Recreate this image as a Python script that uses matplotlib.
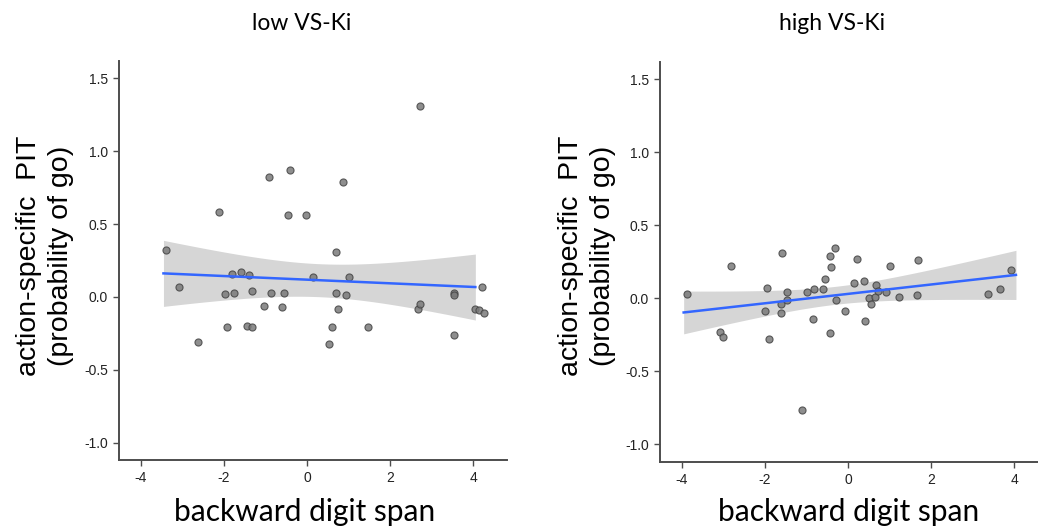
import numpy as np
import matplotlib
matplotlib.use('Agg')
from matplotlib import pyplot as plt

# low VS-Ki group
low_x = [-3.39, -3.08, -2.61, -2.12, -1.97, -1.92, -1.80, -1.76, -1.59, -1.45,
         -1.39, -1.33, -1.33, -1.04, -0.92, -0.87, -0.61, -0.55, -0.46, -0.40,
         -0.02, 0.14, 0.52, 0.61, 0.70, 0.70, 0.75, 0.87, 0.95, 1.01,
         1.48, 2.67, 2.72, 2.72, 3.54, 3.54, 3.54, 4.03, 4.14, 4.21, 4.25]
low_y = [0.32, 0.07, -0.31, 0.58, 0.02, -0.21, 0.16, 0.03, 0.17, -0.20,
         0.15, 0.04, -0.21, -0.06, 0.82, 0.03, -0.07, 0.03, 0.56, 0.87,
         0.56, 0.14, -0.32, -0.21, 0.31, 0.03, -0.08, 0.79, 0.01, 0.14,
         -0.21, -0.08, -0.05, 1.31, 0.03, 0.01, -0.26, -0.08, -0.09, 0.07, -0.11]

# high VS-Ki group
high_x = [-3.88, -3.08, -3.01, -2.80, -2.00, -1.94, -1.91, -1.62, -1.62, -1.59,
          -1.47, -1.47, -1.11, -0.98, -0.84, -0.81, -0.61, -0.55, -0.44, -0.44,
          -0.41, -0.31, -0.29, -0.06, 0.14, 0.21, 0.38, 0.41, 0.50, 0.55,
          0.64, 0.67, 0.73, 0.91, 1.02, 1.22, 1.65, 1.68, 3.36, 3.65, 3.91]
high_y = [0.03, -0.23, -0.27, 0.22, -0.09, 0.07, -0.28, -0.04, -0.10, 0.31,
          0.04, -0.01, -0.77, 0.04, -0.14, 0.06, 0.06, 0.13, 0.29, -0.24,
          0.21, 0.34, -0.01, -0.09, 0.10, 0.27, 0.12, -0.16, 0.00, -0.04,
          0.01, 0.09, 0.05, 0.04, 0.22, 0.01, 0.02, 0.26, 0.03, 0.06, 0.19]

# x range covered by the smoother in each panel
low_fit_range = [-3.45, 4.05]
high_fit_range = [-3.95, 4.04]

titles = ['low VS-Ki', 'high VS-Ki']
x_label = 'backward digit span'
y_label = 'action-specific  PIT\n(probability of go)'
x_ticks = [-4, -2, 0, 2, 4]
y_ticks = [-1.0, -0.5, 0.0, 0.5, 1.0, 1.5]

T_CRIT = 2.02  # 95% t quantile, df = 39

plt.rcParams['font.family'] = ['Liberation Sans', 'DejaVu Sans']
label_font = ['Lato', 'DejaVu Sans']

fig = plt.figure(figsize=(10.38, 5.29), dpi=100)
ax_low = fig.add_axes([0.1146, 0.1304, 0.3738, 0.7543])
ax_high = fig.add_axes([0.6358, 0.1275, 0.3738, 0.7560])


def draw_panel(ax, xs, ys, fit_range):
    xs = np.array(xs)
    ys = np.array(ys)
    n = len(xs)
    slope, icept = np.polyfit(xs, ys, 1)
    resid = ys - (icept + slope * xs)
    s = np.sqrt(np.sum(resid ** 2) / (n - 2))
    sxx = np.sum((xs - xs.mean()) ** 2)
    gx = np.linspace(fit_range[0], fit_range[1], 80)
    gy = icept + slope * gx
    se = s * np.sqrt(1.0 / n + (gx - xs.mean()) ** 2 / sxx)

    ax.fill_between(gx, gy - T_CRIT * se, gy + T_CRIT * se,
                    color='#d6d6d6', lw=0, zorder=1)
    ax.scatter(xs, ys, s=26, facecolor='#7a7a7a', edgecolor='#444444',
               linewidths=0.8, alpha=0.85, zorder=2)
    ax.plot(gx, gy, color='#3366ff', lw=1.8, zorder=3)

    ax.set_xlim(-4.52, 4.81)
    ax.set_ylim(-1.12, 1.62)
    ax.set_xticks(x_ticks)
    ax.set_yticks(y_ticks)
    ax.set_xticklabels([str(t) for t in x_ticks])
    ax.set_yticklabels(['%.1f' % t for t in y_ticks])
    for side in ['top', 'right']:
        ax.spines[side].set_visible(False)
    for side in ['left', 'bottom']:
        ax.spines[side].set_color('#4d4d4d')
        ax.spines[side].set_linewidth(1.4)
    ax.tick_params(length=4, width=1, color='#4d4d4d', labelsize=10,
                   labelcolor='#222222', pad=4)


draw_panel(ax_low, low_x, low_y, low_fit_range)
draw_panel(ax_high, high_x, high_y, high_fit_range)

# titles, axis labels placed on the figure
for xc, title in zip([0.291, 0.8015], titles):
    fig.text(xc, 0.955, title, fontsize=16.5, family=label_font,
             ha='center', va='center')
for xc in [0.293, 0.818]:
    fig.text(xc, 0.0151, x_label, fontsize=21.5, family=label_font,
             ha='center', va='baseline')
for xc in [0.0434, 0.5655]:
    fig.text(xc, 0.516, y_label, fontsize=20.5, rotation=90,
             ha='center', va='center', multialignment='center',
             linespacing=1.3)

plt.savefig('out.png', dpi=100)
